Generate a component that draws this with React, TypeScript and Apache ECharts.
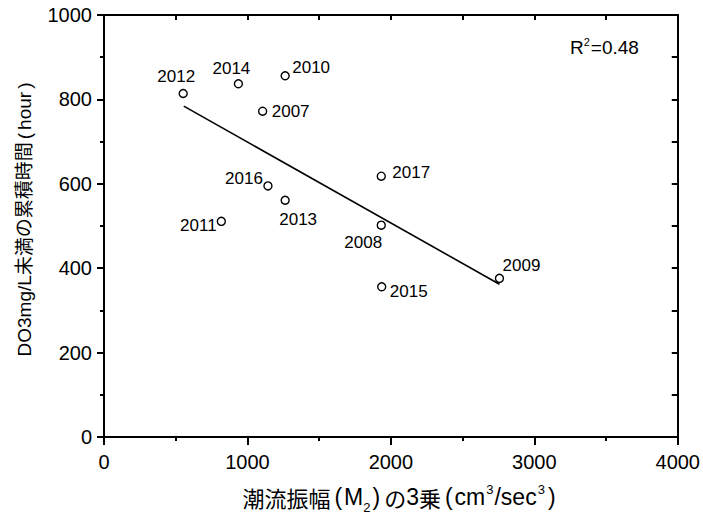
import { useEffect, useRef } from "react";
import * as echarts from "echarts";

// Data
const years = ["2012", "2014", "2010", "2007", "2016", "2013", "2011", "2017", "2008", "2009", "2015"];
const xValues = [552, 937, 1263, 1106, 1143, 1263, 818, 1933, 1933, 2757, 1936];
const yValues = [814, 837, 856, 772, 595, 561, 511, 618, 502, 376, 356];
// regression line endpoints
const trendX = [556, 2757];
const trendY = [784, 362];
const xTicks = [0, 1000, 2000, 3000, 4000];
const yTicks = [0, 200, 400, 600, 800, 1000];
// R2=0.48 — superscript via rich text
const r2Rich = "{n|R}{sup|2}{n|=0.48}";
// 潮流振幅(M2)の3乗(cm3/sec3)  — sub/superscripts via rich text
const xTitleRich =
  "{cjk|潮流振幅}{lp|(}{lat|M}{sub|2}{rp|)}{cjk|の}{lat|3}{cjk|乗}{lp|(}{lat|cm}{sup|3}{lat|/sec}{sup|3}{rp|)}";
// DO3mg/L未満の累積時間(hour)
const yTitleRich = "{t|DO3mg/L未満の累積時間}{p|(}{t|hour}{p|)}";

// label placement relative to each point (layout only)
const labelOffsets: number[][] = [
  [-7, -17], [-7, -15], [26, -8], [28, 0], [-24, -7], [13, 19],
  [-23, 4], [30, -4], [-18, 17], [22, -13], [27, 5],
];

const FONT = "'Liberation Sans', 'Noto Sans CJK JP', sans-serif";
const CJK = "'Noto Sans CJK JP', 'Liberation Sans', sans-serif";

export default function App() {
  const ref = useRef<HTMLDivElement>(null);
  useEffect(() => {
    if (!ref.current) return;
    const chart = echarts.init(ref.current, undefined, { renderer: "svg" });
    const axisLine = { show: true, onZero: false, lineStyle: { color: "#000", width: 2 } };
    const points = xValues.map((x, i) => ({
      value: [x, yValues[i]],
      name: years[i],
      label: { offset: labelOffsets[i] },
    }));
    const fmt = (v: number) => String(v);
    const base = { fill: "#000", fontSize: 23, fontFamily: FONT, lineHeight: 34, verticalAlign: "middle" };
    chart.setOption({
      animation: false,
      backgroundColor: "#fff",
      grid: { left: 104, right: 23, top: 15, bottom: 79, containLabel: false },
      xAxis: [
        {
          type: "value",
          position: "bottom",
          min: xTicks[0],
          max: xTicks[xTicks.length - 1],
          interval: xTicks[1] - xTicks[0],
          axisLine,
          axisTick: { show: true, inside: false, length: 8, lineStyle: { color: "#000", width: 2 } },
          minorTick: { show: true, splitNumber: 2, length: 4, lineStyle: { color: "#000", width: 2 } },
          axisLabel: { color: "#000", fontSize: 20, fontFamily: FONT, margin: 15, formatter: fmt },
          splitLine: { show: false },
        },
        {
          type: "value",
          position: "top",
          min: xTicks[0],
          max: xTicks[xTicks.length - 1],
          interval: (xTicks[1] - xTicks[0]) / 2,
          axisLine,
          axisTick: { show: true, inside: true, length: 5, lineStyle: { color: "#000", width: 2 } },
          axisLabel: { show: false },
          splitLine: { show: false },
        },
      ],
      yAxis: [
        {
          type: "value",
          position: "left",
          min: yTicks[0],
          max: yTicks[yTicks.length - 1],
          interval: yTicks[1] - yTicks[0],
          axisLine,
          axisTick: { show: true, inside: false, length: 7, lineStyle: { color: "#000", width: 2 } },
          minorTick: { show: true, splitNumber: 2, length: 4, lineStyle: { color: "#000", width: 2 } },
          axisLabel: { color: "#000", fontSize: 20, fontFamily: FONT, margin: 12, formatter: fmt },
          splitLine: { show: false },
        },
        {
          type: "value",
          position: "right",
          min: yTicks[0],
          max: yTicks[yTicks.length - 1],
          interval: (yTicks[1] - yTicks[0]) / 2,
          axisLine,
          axisTick: { show: true, inside: true, length: 6, lineStyle: { color: "#000", width: 2 } },
          axisLabel: { show: false },
          splitLine: { show: false },
        },
      ],
      series: [
        {
          type: "line",
          data: trendX.map((x, i) => [x, trendY[i]]),
          showSymbol: false,
          symbol: "none",
          lineStyle: { color: "#000", width: 1.6 },
          silent: true,
          z: 2,
        },
        {
          type: "scatter",
          data: points,
          symbol: "circle",
          symbolSize: 8,
          itemStyle: { color: "#fff", borderColor: "#000", borderWidth: 1.4, opacity: 1 },
          label: {
            show: true,
            position: "inside",
            formatter: (p: any) => p.name,
            color: "#000",
            fontSize: 17,
            fontFamily: FONT,
          },
          z: 3,
        },
      ],
      graphic: [
        {
          type: "text",
          x: 570,
          y: 47,
          style: {
            text: r2Rich,
            align: "left",
            verticalAlign: "middle",
            fill: "#000",
            fontSize: 19,
            fontFamily: FONT,
            rich: {
              n: { fill: "#000", fontSize: 19, fontFamily: FONT, lineHeight: 24, verticalAlign: "middle" },
              sup: { fill: "#000", fontSize: 11, fontFamily: FONT, lineHeight: 12, verticalAlign: "top", padding: [1, 1, 0, 0] },
            },
          },
        },
        {
          type: "text",
          x: 401,
          y: 497,
          style: {
            text: xTitleRich,
            align: "center",
            verticalAlign: "middle",
            fill: "#000",
            fontSize: 23,
            fontFamily: FONT,
            rich: {
              cjk: { ...base, fontSize: 22, fontFamily: CJK },
              lat: { ...base },
              lp: { ...base, padding: [0, 2, 0, 4] },
              rp: { ...base, padding: [0, 4, 0, 2] },
              sub: { fill: "#000", fontSize: 13, fontFamily: FONT, lineHeight: 12, verticalAlign: "bottom" },
              sup: {
                fill: "#000", fontSize: 13, fontFamily: FONT, lineHeight: 14,
                verticalAlign: "top", padding: [3, 1, 0, 1],
              },
            },
          },
        },
        {
          type: "text",
          x: 24,
          y: 218,
          rotation: Math.PI / 2,
          style: {
            text: yTitleRich,
            align: "center",
            verticalAlign: "middle",
            fill: "#000",
            fontSize: 19,
            fontFamily: FONT,
            rich: {
              t: { fill: "#000", fontSize: 19, fontFamily: FONT, lineHeight: 24 },
              p: { fill: "#000", fontSize: 19, fontFamily: FONT, lineHeight: 24, padding: [0, 3, 0, 3] },
            },
          },
        },
      ],
    });
    return () => chart.dispose();
  }, []);
  return (
    <div
      ref={ref}
      style={{ position: "fixed", left: 0, top: 0, width: 703, height: 516, background: "#fff" }}
    />
  );
}
